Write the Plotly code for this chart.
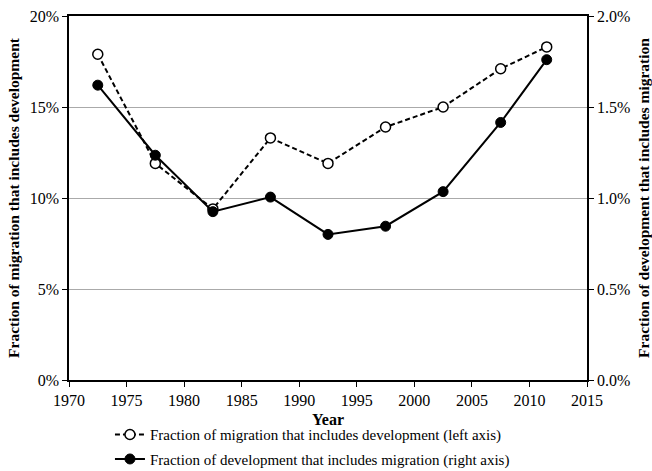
import plotly.graph_objects as go

years = [1972.5, 1977.5, 1982.5, 1987.5, 1992.5, 1997.5, 2002.5, 2007.5, 2011.5]
mig_incl_dev = [17.9, 11.9, 9.4, 13.3, 11.9, 13.9, 15.0, 17.1, 18.3]  # left axis, %
dev_incl_mig = [1.62, 1.235, 0.925, 1.005, 0.80, 0.845, 1.035, 1.415, 1.76]  # right axis, %

name1 = "Fraction of migration that includes development (left axis)"
name2 = "Fraction of development that includes migration (right axis)"

font_family = "Liberation Serif, Times New Roman, serif"

fig = go.Figure()
fig.add_trace(go.Scatter(
    x=years, y=mig_incl_dev, name=name1, mode="lines+markers", legendgroup="a",
    line=dict(color="black", width=2, dash="5px,3px"),
    marker=dict(symbol="circle", size=10, color="white", line=dict(color="black", width=1.5)),
    yaxis="y",
))
fig.add_trace(go.Scatter(
    x=years, y=dev_incl_mig, name=name2, mode="lines+markers", legendgroup="b",
    line=dict(color="black", width=2),
    marker=dict(symbol="circle", size=10, color="black", line=dict(color="black", width=1)),
    yaxis="y2",
))

fig.update_layout(
    width=652, height=471,
    margin=dict(l=69, r=65, t=16, b=91, autoexpand=False),
    paper_bgcolor="white", plot_bgcolor="white",
    font=dict(family=font_family, size=15, color="black"),
    showlegend=True,
    legend=dict(orientation="v", x=0.47, xanchor="center", y=-0.105, yanchor="top",
                font=dict(size=15, family=font_family), bgcolor="rgba(0,0,0,0)",
                itemwidth=30, tracegroupgap=2),
    xaxis=dict(range=[1970, 2015], dtick=5, tick0=1970, automargin=False,
               showline=True, linecolor="black", linewidth=1.5, mirror=True,
               ticks="outside", ticklen=5, tickcolor="black",
               showgrid=False, zeroline=False,
               title=dict(text="<b>Year</b>", font=dict(size=16), standoff=6),
               tickfont=dict(size=16)),
    yaxis=dict(range=[0, 20], dtick=5, ticksuffix="%", automargin=False,
               showline=True, linecolor="black", linewidth=1.5,
               ticks="outside", ticklen=5, tickcolor="black",
               showgrid=True, gridcolor="#aaaaaa", gridwidth=1, zeroline=False,
               title=dict(text="<b>Fraction of migration that includes development</b>",
                          font=dict(size=15.5), standoff=6),
               tickfont=dict(size=16)),
    yaxis2=dict(range=[0, 2], dtick=0.5, tickformat=".1f", ticksuffix="%",
                overlaying="y", side="right", automargin=False,
                showline=True, linecolor="black", linewidth=1.5,
                ticks="outside", ticklen=5, tickcolor="black",
                showgrid=False, zeroline=False,
                title=dict(text="<b>Fraction of development that includes migration</b>",
                           font=dict(size=15.5), standoff=9),
                tickfont=dict(size=16)),
)

fig.write_html("out.html", config={"displayModeBar": False},
               post_script="document.body.style.margin='0';")
